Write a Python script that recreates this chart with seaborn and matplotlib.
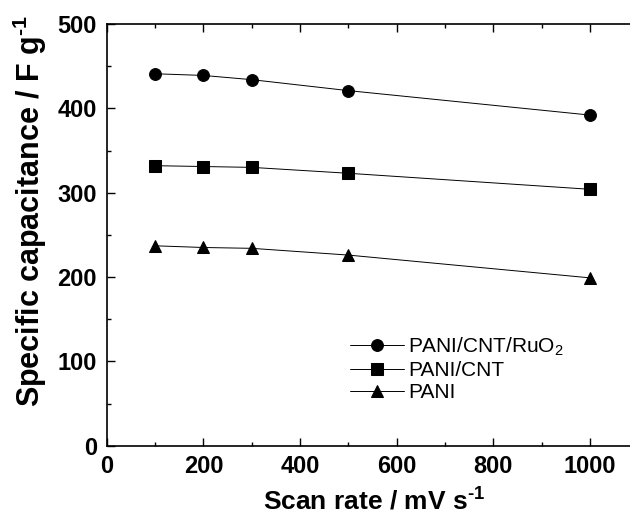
import numpy as np
import matplotlib
matplotlib.use("Agg")
import matplotlib.pyplot as plt
import seaborn as sns
from matplotlib.ticker import MultipleLocator

scan_rate = [100, 200, 300, 500, 1000]
cap_ruo2 = [441, 439, 434, 421, 392]
cap_cnt = [332, 331, 330, 323, 304]
cap_pani = [237, 235, 234, 226, 199]

series = [
    ("PANI/CNT/RuO$_\\mathsf{2}$", cap_ruo2, "o"),
    ("PANI/CNT", cap_cnt, "s"),
    ("PANI", cap_pani, "^"),
]

sns.set_style("ticks")
plt.rcParams["font.family"] = ["Liberation Sans", "DejaVu Sans"]
plt.rcParams["mathtext.fontset"] = "custom"
plt.rcParams["mathtext.rm"] = "Liberation Sans:bold"
plt.rcParams["mathtext.sf"] = "Liberation Sans"
plt.rcParams["text.color"] = "black"
plt.rcParams["axes.labelcolor"] = "black"
plt.rcParams["xtick.color"] = "black"
plt.rcParams["ytick.color"] = "black"
plt.rcParams["axes.edgecolor"] = "black"

fig = plt.figure(figsize=(6.3, 5.15), dpi=100)
ax = fig.add_axes([0.1694, 0.1346, 0.8438, 0.8188])

for label, vals, mk in series:
    sns.lineplot(x=scan_rate, y=vals, marker=mk, color="black", linewidth=0.7,
                 markersize=8.5, markeredgecolor="black", label=label, ax=ax)

ax.set_xlim(0, 1100)
ax.set_ylim(0, 500)
ax.xaxis.set_major_locator(MultipleLocator(200))
ax.xaxis.set_minor_locator(MultipleLocator(100))
ax.yaxis.set_major_locator(MultipleLocator(100))
ax.yaxis.set_minor_locator(MultipleLocator(50))
ax.tick_params(which="both", direction="in", top=True, right=True, width=1.0)
ax.tick_params(which="major", length=6, labelsize=17, pad=7)
ax.tick_params(which="minor", length=3)
for lab in ax.get_xticklabels() + ax.get_yticklabels():
    lab.set_fontweight("bold")
for sp in ax.spines.values():
    sp.set_linewidth(1.2)

ax.set_xlabel(r"Scan rate / mV s$^{\text{-1}}$", fontsize=19, fontweight="bold")
ax.set_ylabel(r"Specific capacitance / F g$^{\text{-1}}$", fontsize=22, fontweight="bold")
ax.xaxis.set_label_coords(0.503, -0.097)
ax.yaxis.set_label_coords(-0.109, 0.557)

ax.legend(loc="lower left", bbox_to_anchor=(0.442, 0.083), frameon=False, fontsize=15,
          handlelength=2.6, labelspacing=0.15, handletextpad=0.2, borderaxespad=0)

fig.savefig("out.png", dpi=100)
